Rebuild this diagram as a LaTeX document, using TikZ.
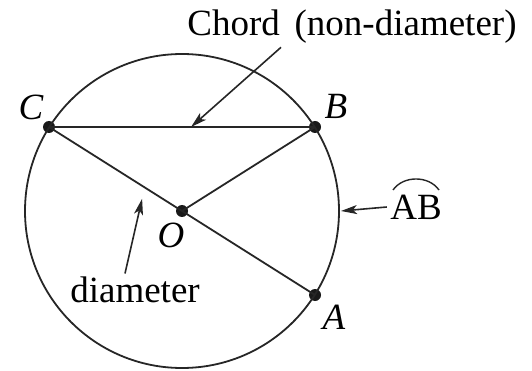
\documentclass[tikz,border=0pt]{standalone}
\usepackage{fontspec}
\setmainfont{Liberation Serif}
\usetikzlibrary{arrows.meta,positioning,calc}

\begin{document}
\begin{tikzpicture}[
  x=1pt, y=-1pt,
  font=\fontsize{37}{42}\selectfont,
  every node/.style={align=center},
  %% ─── styles ─────────────────────────────────────────────
  dot/.style={circle, fill=black!90, inner sep=0pt, minimum size=12pt},
  ptlab/.style={font=\fontsize{37}{42}\selectfont\itshape, inner sep=1pt},
  seg/.style={line width=1.8pt, color=black!85},
  arr/.style={-{Stealth[length=16pt,width=9pt,inset=4pt]}, line width=1.6pt, color=black!85}
]
  \useasboundingbox (0,0) rectangle (532,371);

  %% ─── points on the circle ───────────────────────────────
  \node[dot] (O) at (182,211) {};
  \node[dot] (C) at (49,127) {};
  \node[dot] (B) at (315,127) {};
  \node[dot] (A) at (315,295) {};

  \draw[seg] (O.center) circle[radius=157];
  \coordinate (east) at ($(O.center)+(157,0)$);

  %% ─── segments ───────────────────────────────────────────
  \draw[seg] (C.center) -- (B.center);
  \draw[seg] (C.center) -- (A.center);
  \draw[seg] (O.center) -- (B.center);

  %% ─── point labels ───────────────────────────────────────
  \node[ptlab, above left=2pt and 0pt of C] (Clab) {C};
  \node[ptlab, above right=3pt and 4pt of B] (Blab) {B};
  \node[ptlab, below left=6pt and -8pt of O] (Olab) {O};
  \node[ptlab, below right=4pt and 2pt of A] (Alab) {A};

  %% ─── text labels ────────────────────────────────────────
  \node (chordlab) at (352,27) {Chord\hspace{0.4em}(non-diameter)};
  \node (diamlab) at (135,290) {diameter};
  \node (arclab) at (416,207) {AB};
  \draw[line width=1.4pt, black!85] ($(arclab.center)+(-23,-17)$) to[bend left=55] ($(arclab.center)+(23,-17)$);

  %% ─── pointers ───────────────────────────────────────────
  \draw[arr] ([xshift=-71pt]chordlab.south) -- ($(C)!0.534!(B)$);
  \draw[arr] ([xshift=-10pt]diamlab.north) -- ($(C)!0.70!(O)+(0,13)$);
  \draw[arr] (arclab.west) -- ([xshift=2pt]east);

\end{tikzpicture}
\end{document}
